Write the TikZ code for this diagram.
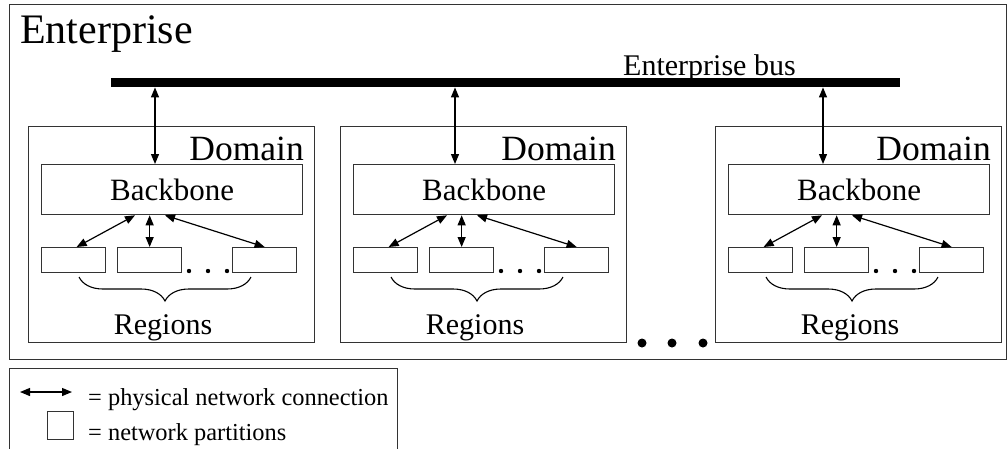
\documentclass[tikz,border=0pt]{standalone}
\usepackage{fontspec}
\setmainfont{Liberation Serif}
\usetikzlibrary{arrows.meta,decorations.pathreplacing,calc}
\begin{document}
\begin{tikzpicture}[x=1pt,y=-1pt,
  box/.style={draw=black!80,line width=1.3pt,inner sep=0pt,anchor=north west},
  conn/.style={line width=1.2pt,{Triangle[length=10pt,width=8pt]}-{Triangle[length=10pt,width=8pt]}},
  bigtext/.style={font=\fontsize{42}{50}\selectfont,inner sep=0pt},
  domtext/.style={font=\fontsize{35.5}{42}\selectfont,inner sep=0pt},
  bbtext/.style={font=\fontsize{31}{37}\selectfont,inner sep=0pt},
  midtext/.style={font=\fontsize{30}{36}\selectfont,inner sep=0pt},
  legtext/.style={font=\fontsize{24.4}{29}\selectfont,inner sep=0pt},
  regbox/.style={box,minimum width=64pt,minimum height=25pt},
  bracestyle/.style={line width=1.1pt,decorate,decoration={brace,mirror,amplitude=24pt,aspect=0.5}}]
\useasboundingbox (0,0) rectangle (1007,448);
\clip (0,0) rectangle (1007,448);
\fill[white] (0,0) rectangle (1007,448);
% enterprise
\node[box,minimum width=997pt,minimum height=355pt] (ent) at (9,4) {};
\node[bigtext,anchor=base west] (entl) at (20,43) {Enterprise};
\node[fill=black,minimum width=789pt,minimum height=9pt,inner sep=0pt,anchor=north west] (bus) at (111,78) {};
\node[midtext,anchor=base west] (busl) at (623,75) {Enterprise bus};
\foreach \i/\X/\ax in {1/28/155,2/340/455,3/715/823}{
  \node[box,minimum width=286pt,minimum height=216pt] (d\i) at (\X,126) {};
  \node[domtext,anchor=base east] (dl\i) at (\X+276,160) {Domain};
  \node[box,bbtext,minimum width=261pt,minimum height=50pt] (bb\i) at (\X+13,164) {Backbone};
  \node[regbox] (ra\i) at (\X+13,247) {};
  \node[regbox] (rb\i) at (\X+89,247) {};
  \node[regbox] (rc\i) at (\X+204,247) {};
  \fill (\X+161,271) circle (2.2);
  \fill (\X+180,271) circle (2.2);
  \fill (\X+199,271) circle (2.2);
  \draw[bracestyle] (\X+51,277) -- (\X+223,277);
  \node[midtext,anchor=base] (rl\i) at (\X+135,334) {Regions};
  \coordinate (ba\i) at (\ax,0);
  \draw[conn] (ba\i |- bus.south) -- (ba\i |- bb\i.north);
  \draw[conn] ($(bb\i.south west)+(94,0)$) -- ($(ra\i.north)+(3,0)$);
  \draw[conn] (rb\i.north |- bb\i.south) -- (rb\i.north);
  \draw[conn] ($(bb\i.south west)+(124,0)$) -- (rc\i.north);
}
\fill (642,343) circle (4.5);
\fill (672,343) circle (4.5);
\fill (703,343) circle (4.5);
% legend
\node[box,minimum width=388pt,minimum height=90pt] (leg) at (9,368) {};
\coordinate (la) at (20,392);
\coordinate (lb) at (72,392);
\draw[conn] (la) -- (lb);
\node[box,minimum width=26pt,minimum height=28pt] (lsq) at (47,411) {};
\node[legtext,anchor=base west] (lt1) at (88,405) {= physical network connection};
\node[legtext,anchor=base west] (lt2) at (88,440) {= network partitions};
\end{tikzpicture}
\end{document}
